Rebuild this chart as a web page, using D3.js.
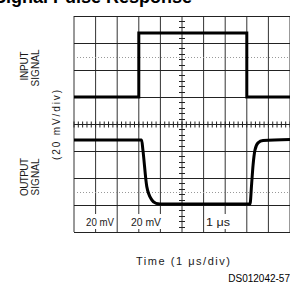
<!DOCTYPE html>
<html>
<head>
<meta charset="utf-8">
<script src="https://cdn.jsdelivr.net/npm/d3@7"></script>
<style>
  html, body { margin: 0; padding: 0; background: #fff; }
  svg { display: block; }
  text { font-family: "Liberation Sans", Arial, sans-serif; fill: #1a1a1a; }
</style>
</head>
<body>
<div id="chart"></div>
<script>
// time in divisions (1 us/div), level in divisions from the centre line (20 mV/div)
const inputTime = [0, 3, 3, 8, 8, 10];
const inputLevel = [1, 1, 3.37, 3.37, 1, 1];

const outputTime = [0, 3.13, 3.19, 3.37, 3.6, 3.8, 3.98, 8.15, 8.22, 8.29, 8.38, 8.52, 8.75, 10];
const outputLevel = [-0.59, -0.59, -0.96, -2.32, -2.81, -2.94, -2.96, -2.96, -2.26, -1.52, -0.96, -0.7, -0.61, -0.57];

const timeDivs = d3.range(0, 11);
const levelDivs = d3.range(-4, 5);
const dottedLevels = [2.5, -2.5];
const minorTicks = d3.range(0, 51).map((d) => d / 5);

const bottomLabels = [
  { text: "20 mV", x: 86, len: 28 },
  { text: "20 mV", x: 131, len: 30 },
  { text: "1 \u03bcs", x: 206, len: 24 },
];

const width = 290, height = 285;
const margin = { top: 16, right: 0, bottom: 53, left: 74 };
const innerWidth = width - margin.left - margin.right,
  innerHeight = height - margin.top - margin.bottom;

const svg = d3
  .select("#chart")
  .append("svg")
  .attr("width", width)
  .attr("height", height);

// title, mostly cut off by the top edge
svg
  .append("text")
  .attr("x", -6)
  .attr("y", 3)
  .attr("font-size", 18)
  .attr("font-weight", "bold")
  .attr("textLength", 198)
  .attr("lengthAdjust", "spacingAndGlyphs")
  .style("fill", "#000")
  .text("Signal Pulse Response");

const g = svg.append("g").attr("transform", `translate(${margin.left},${margin.top})`);

const x = d3.scaleLinear().domain([0, 10]).range([0, innerWidth]);
const y = d3.scaleLinear().domain([-4, 4]).range([innerHeight, 0]);

// grid
g.append("g")
  .selectAll("line")
  .data(timeDivs)
  .join("line")
  .attr("x1", (d) => x(d))
  .attr("x2", (d) => x(d))
  .attr("y1", 0)
  .attr("y2", innerHeight)
  .attr("stroke", "#333")
  .attr("stroke-width", 1);

g.append("g")
  .selectAll("line")
  .data(levelDivs)
  .join("line")
  .attr("x1", 0)
  .attr("x2", innerWidth)
  .attr("y1", (d) => Math.round(y(d)) + 0.5)
  .attr("y2", (d) => Math.round(y(d)) + 0.5)
  .attr("stroke", "#222")
  .attr("stroke-width", 1);

g.append("g")
  .selectAll("line")
  .data(dottedLevels)
  .join("line")
  .attr("x1", 0)
  .attr("x2", innerWidth)
  .attr("y1", (d) => Math.round(y(d)) + 0.5)
  .attr("y2", (d) => Math.round(y(d)) + 0.5)
  .attr("stroke", "#999")
  .attr("stroke-dasharray", "1,2");

// minor ticks on the centre lines
const cy = Math.round(y(0)) + 0.5;
g.append("g")
  .selectAll("line")
  .data(minorTicks)
  .join("line")
  .attr("x1", (d) => x(d))
  .attr("x2", (d) => x(d))
  .attr("y1", cy - 3)
  .attr("y2", cy + 3)
  .attr("stroke", "#222");

const vTicks = d3.range(-20, 21).map((d) => d / 5);
const cx = x(5);
g.append("g")
  .selectAll("line")
  .data(vTicks)
  .join("line")
  .attr("x1", cx - 3)
  .attr("x2", cx + 3)
  .attr("y1", (d) => Math.round(y(d)) + 0.5)
  .attr("y2", (d) => Math.round(y(d)) + 0.5)
  .attr("stroke", "#222");

// bottom labels with white backing
const lab = g.append("g");
lab
  .selectAll("rect")
  .data(bottomLabels)
  .join("rect")
  .attr("x", (d) => d.x - margin.left - 1)
  .attr("y", 214 - margin.top)
  .attr("width", (d) => d.len + 2)
  .attr("height", 15)
  .attr("fill", "#fff");
lab
  .selectAll("text")
  .data(bottomLabels)
  .join("text")
  .attr("x", (d) => d.x - margin.left)
  .attr("y", 226 - margin.top)
  .attr("font-size", 10)
  .attr("textLength", (d) => d.len)
  .attr("lengthAdjust", "spacingAndGlyphs")
  .text((d) => d.text);

// traces
const inputLine = d3
  .line()
  .x((d) => x(d[0]))
  .y((d) => y(d[1]));

g.append("path")
  .datum(d3.zip(inputTime, inputLevel))
  .attr("d", inputLine)
  .attr("fill", "none")
  .attr("stroke", "#000")
  .attr("stroke-width", 3);

const outputLine = d3
  .line()
  .x((d) => x(d[0]))
  .y((d) => y(d[1]))
  .curve(d3.curveMonotoneX);

g.append("path")
  .datum(d3.zip(outputTime, outputLevel))
  .attr("d", outputLine)
  .attr("fill", "none")
  .attr("stroke", "#000")
  .attr("stroke-width", 3)
  .attr("stroke-linejoin", "round");

// side labels
function vtext(label, bx, cyPos, len) {
  svg
    .append("text")
    .attr("transform", `translate(${bx},${cyPos}) rotate(-90)`)
    .attr("text-anchor", "middle")
    .attr("font-size", 10)
    .attr("textLength", len)
    .attr("lengthAdjust", "spacing")
    .text(label);
}
vtext("INPUT", 28, 66, 29);
vtext("SIGNAL", 39, 68, 37);
vtext("OUTPUT", 28, 177, 38);
vtext("SIGNAL", 39, 177, 37);
vtext("(20 mV/div)", 60, 125, 70);

svg
  .append("text")
  .attr("x", 136)
  .attr("y", 265)
  .attr("font-size", 11)
  .attr("textLength", 94)
  .attr("lengthAdjust", "spacing")
  .text("Time (1 \u03bcs/div)");

svg
  .append("text")
  .attr("x", 290)
  .attr("y", 282)
  .attr("text-anchor", "end")
  .attr("font-size", 10)
  .style("fill", "#000")
  .text("DS012042-57");
</script>
</body>
</html>
